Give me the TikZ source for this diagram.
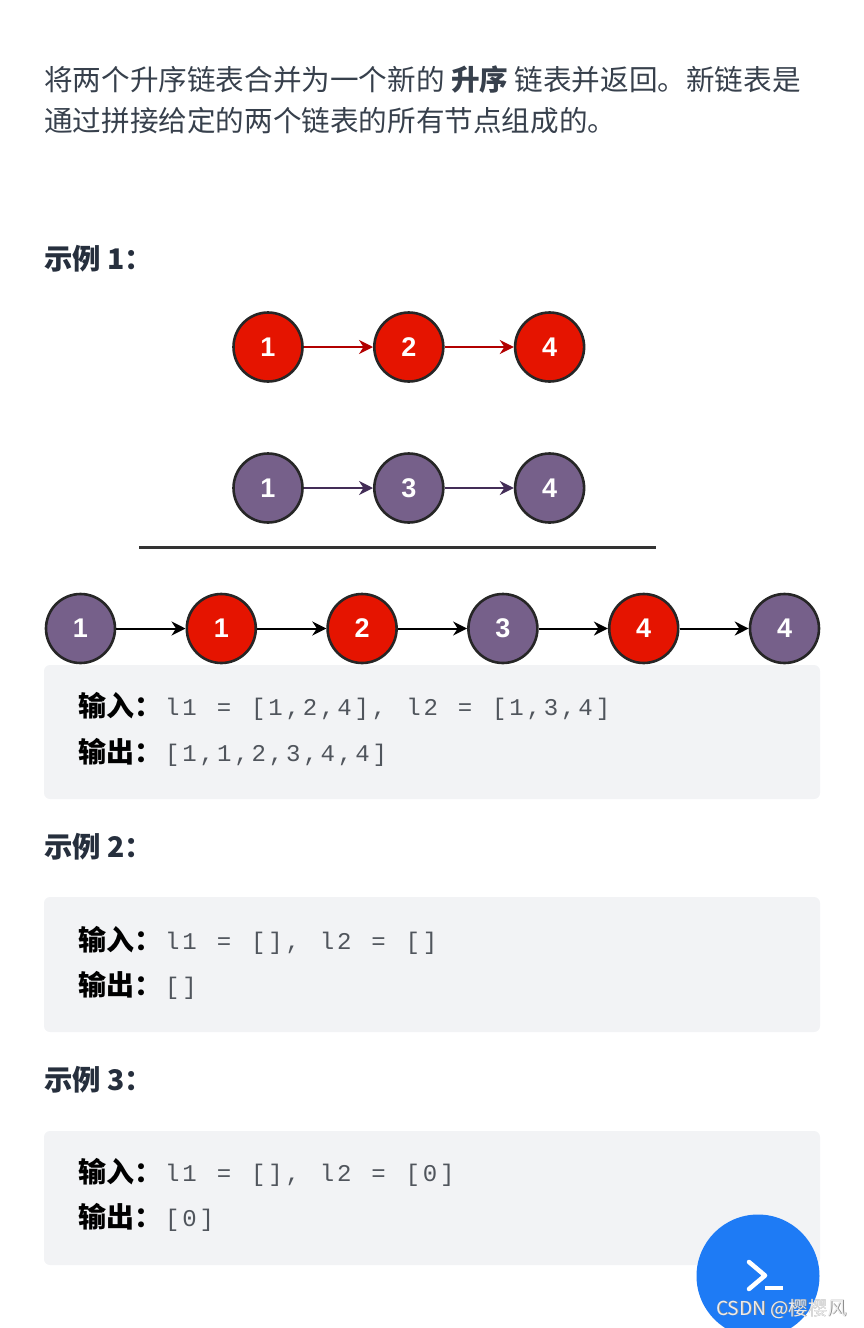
\documentclass[tikz,border=0pt]{standalone}
\usepackage{fontspec}
\setmainfont{Noto Sans CJK SC}
\newfontfamily\numfont{Liberation Sans}
\newfontfamily\codefont[LetterSpace=12,WordSpace=1.15]{Liberation Mono}
\usepackage{xcolor}
\definecolor{cred}{HTML}{E51400}
\definecolor{cdred}{HTML}{B20000}
\definecolor{cpurple}{HTML}{76608A}
\definecolor{cdpurple}{HTML}{432D57}
\definecolor{cbox}{HTML}{F2F3F5}
\definecolor{cink}{HTML}{262F3D}
\definecolor{ccode}{HTML}{50555C}
\definecolor{cblue}{HTML}{1E7BF5}
\usepackage{tikz}
\usetikzlibrary{arrows.meta, positioning}
\tikzset{
x=1pt, y=-1pt,
node distance=140.8pt,
State/.style={
	draw=black!85, circle,
	line width=2.6pt,
	minimum size=69pt,
	inner sep=0pt,
	text=white,
	font=\numfont\bfseries\fontsize{27}{27}\selectfont
},
RedState/.style={
	State,
	fill=cred
},
PurpleState/.style={
	State,
	fill=cpurple
},
RedEdge/.style={
	draw=cdred,
	line width=2pt,
	-{Stealth[length=14pt,width=14pt]}
},
PurpleEdge/.style={
	draw=cdpurple,
	line width=2pt,
	-{Stealth[length=14pt,width=14pt]}
},
MergedEdge/.style={
	draw=black,
	line width=2pt,
	-{Stealth[length=14pt,width=14pt]}
},
Para/.style={
	anchor=base west, inner sep=0pt,
	text=cink!92!white,
	font=\fontsize{28.6}{28.6}\selectfont
},
Heading/.style={
	anchor=base west, inner sep=0pt,
	text=cink,
	font=\bfseries\fontsize{28.4}{28.4}\selectfont
},
Tag/.style={
	anchor=base west, inner sep=0pt,
	text=black,
	font=\bfseries\fontsize{28}{28}\selectfont
},
Code/.style={
	anchor=base west, inner sep=0pt,
	text=ccode,
	font=\codefont\fontsize{24}{24}\selectfont
},
Panel/.style={
	fill=cbox,
	rounded corners=6pt
}
}

\begin{document}
\begin{tikzpicture}
	\useasboundingbox (0,0) rectangle (864,1328);
	\clip (0,0) rectangle (864,1328);

	\node[Para] (line1) at (44,90) {将两个升序链表合并为一个新的 \textbf{升序} 链表并返回。新链表是};
	\node[Para] (line2) at (44,131) {通过拼接给定的两个链表的所有节点组成的。};

	\node[Heading] (head1) at (44,269) {示例 1：};
	\node[Heading] (head2) at (44,857) {示例 2：};
	\node[Heading] (head3) at (44,1090) {示例 3：};

	% grey panels
	\fill[Panel] (44,665) rectangle (820,799);
	\fill[Panel] (44,897) rectangle (820,1032);
	\fill[Panel] (44,1131) rectangle (820,1265);

	% first list
	\node[RedState] (A1) at (268,347) {1};
	\node[RedState, right of= A1] (A2) {2};
	\node[RedState, right of= A2] (A3) {4};
	\draw[RedEdge] (A1) -- (A2);
	\draw[RedEdge] (A2) -- (A3);

	% second list
	\node[PurpleState] (B1) at (268,488) {1};
	\node[PurpleState, right of= B1] (B2) {3};
	\node[PurpleState, right of= B2] (B3) {4};
	\draw[PurpleEdge] (B1) -- (B2);
	\draw[PurpleEdge] (B2) -- (B3);

	\coordinate (ruleL) at (139,547);
	\coordinate (ruleR) at (656,547);
	\draw[line width=3pt, draw=black!80] (ruleL) -- (ruleR);

	% merged list
	\node[PurpleState] (C1) at (80.5,628.5) {1};
	\node[RedState, right of= C1] (C2) {1};
	\node[RedState, right of= C2] (C3) {2};
	\node[PurpleState, right of= C3] (C4) {3};
	\node[RedState, right of= C4] (C5) {4};
	\node[PurpleState, right of= C5] (C6) {4};
	\draw[MergedEdge] (C1) -- (C2);
	\draw[MergedEdge] (C2) -- (C3);
	\draw[MergedEdge] (C3) -- (C4);
	\draw[MergedEdge] (C4) -- (C5);
	\draw[MergedEdge] (C5) -- (C6);

	\node[Tag] (in1) at (78,716) {输入：};
	\node[Code] (code1) at (165,715) {l1 = [1,2,4], l2 = [1,3,4]};
	\node[Tag] (out1) at (78,762) {输出：};
	\node[Code] (res1) at (165,761) {[1,1,2,3,4,4]};

	\node[Tag] (in2) at (78,950) {输入：};
	\node[Code] (code2) at (165,949) {l1 = [], l2 = []};
	\node[Tag] (out2) at (78,995) {输出：};
	\node[Code] (res2) at (165,994) {[]};

	\node[Tag] (in3) at (78,1182) {输入：};
	\node[Code] (code3) at (165,1181) {l1 = [], l2 = [0]};
	\node[Tag] (out3) at (78,1227) {输出：};
	\node[Code] (res3) at (165,1226) {[0]};

	% run button
	\fill[cblue] (758,1276) circle (61.5);
	\draw[white, line width=4.5pt, line cap=round, line join=round] (749,1262) -- (765,1275.5) -- (749,1289);
	\draw[white, line width=4pt] (765,1288) -- (783,1288);

	\node[anchor=base west, inner sep=0pt, text=black!45, xshift=0.8pt, yshift=-0.8pt, font=\fontsize{19.2}{19.2}\selectfont] (markb) at (716,1315) {CSDN @樱樱风};
	\node[anchor=base west, inner sep=0pt, text=white!92!black, font=\fontsize{19.2}{19.2}\selectfont] (mark) at (716,1315) {CSDN @樱樱风};
\end{tikzpicture}
\end{document}
